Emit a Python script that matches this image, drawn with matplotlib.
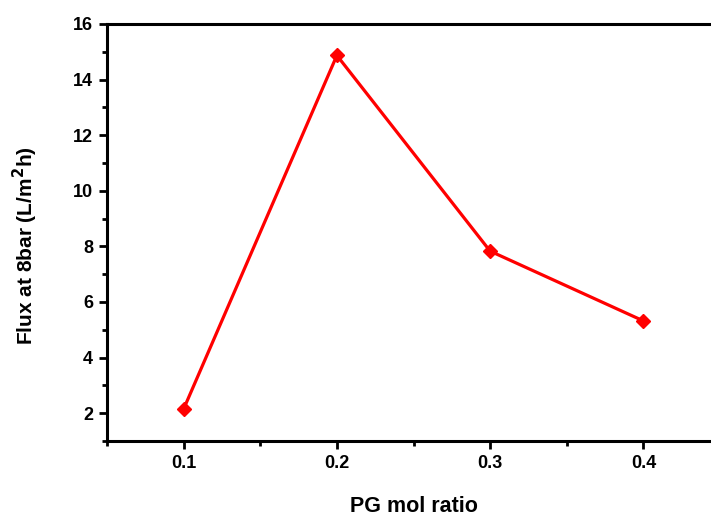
import matplotlib
matplotlib.use("Agg")
import matplotlib.pyplot as plt
from matplotlib.ticker import MultipleLocator

x_vals = [0.1, 0.2, 0.3, 0.4]
flux = [2.15, 14.87, 7.83, 5.32]
xticks = [0.1, 0.2, 0.3, 0.4]
yticks = [2, 4, 6, 8, 10, 12, 14, 16]

plt.rcParams['font.family'] = ['Liberation Sans', 'DejaVu Sans']
plt.rcParams['font.weight'] = 'bold'

fig = plt.figure(figsize=(7.11, 5.16), dpi=100)
ax = fig.add_axes([107/711, 1-441/516, (720-107)/711, (441-24)/516])

ax.plot(x_vals, flux, color='#ff0000', lw=2.3, marker='D', ms=7.5, mec='#ff0000', mfc='#ff0000')

ax.set_xlim(0.05, 0.45)
ax.set_ylim(1, 16)
ax.set_xticks(xticks)
ax.set_xticklabels([f"{v:.1f}" for v in xticks])
ax.set_yticks(yticks)
ax.xaxis.set_minor_locator(MultipleLocator(0.05))
ax.yaxis.set_minor_locator(MultipleLocator(1))
ax.tick_params(which='major', direction='out', length=6, width=2, labelsize=13, pad=4)
ax.tick_params(which='minor', direction='out', length=3.5, width=2)
for s in ax.spines.values():
    s.set_linewidth(2.2)
for lab in ax.get_xticklabels() + ax.get_yticklabels():
    lab.set_fontweight('bold')

ax.set_xlabel('PG mol ratio', fontsize=15.5, fontweight='bold', labelpad=17)
ax.set_ylabel('Flux at 8bar (L/m$^\\mathbf{2}$h)', fontsize=15, fontweight='bold')
ax.yaxis.set_label_coords(-0.11, 0.468)

fig.savefig('out.png', dpi=100)
